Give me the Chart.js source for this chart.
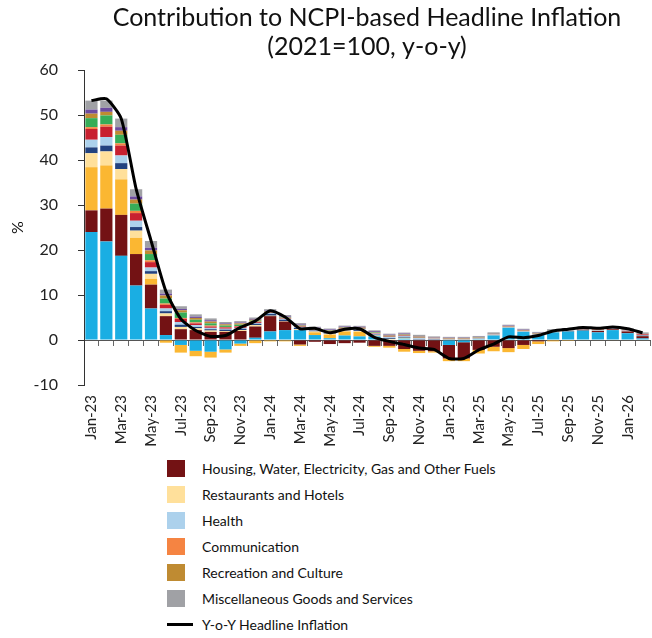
<!DOCTYPE html>
<html>
<head>
<meta charset="utf-8">
<title>Contribution to NCPI-based Headline Inflation</title>
<script src="https://cdn.jsdelivr.net/npm/chart.js@4.4.1/dist/chart.umd.min.js"></script>
<style>
  body { margin: 0; background: #fff; font-family: Lato, sans-serif; }
  #wrap { position: relative; width: 652px; height: 638px; }
  #chart { position: absolute; left: 0; top: 0; }
  #legend { position: absolute; left: 167px; top: 455px; }
  .item { display: flex; align-items: center; height: 26px; font-size: 14px; color: #111; white-space: nowrap; }
  .box { width: 18px; height: 17px; margin-right: 17px; }
  .dash { width: 26px; height: 3px; background: #000; margin-right: 9px; }
</style>
</head>
<body>
<div id="wrap">
  <canvas id="chart" width="652" height="450"></canvas>
  <div id="legend"></div>
</div>
<script>
// Months on the x axis
const months = [
  "Jan-23", "Feb-23", "Mar-23", "Apr-23", "May-23", "Jun-23", "Jul-23", "Aug-23", "Sep-23", "Oct-23", "Nov-23", "Dec-23",
  "Jan-24", "Feb-24", "Mar-24", "Apr-24", "May-24", "Jun-24", "Jul-24", "Aug-24", "Sep-24", "Oct-24", "Nov-24", "Dec-24",
  "Jan-25", "Feb-25", "Mar-25", "Apr-25", "May-25", "Jun-25", "Jul-25", "Aug-25", "Sep-25", "Oct-25", "Nov-25", "Dec-25",
  "Jan-26", "Feb-26"
];

// Y-o-Y headline inflation (%)
const headline = [53.2, 53.6, 49.2, 33.6, 22.1, 10.8, 4.7, 2.1, 0.8, 1.0, 2.8, 4.2,
  6.5, 5.1, 2.5, 2.6, 1.6, 2.4, 2.5, 0.6, -0.3, -1.0, -1.8, -2.1,
  -4.1, -4.1, -2.2, -0.9, 0.7, 0.5, 1.0, 2.0, 2.4, 2.8, 2.6, 2.9,
  2.5, 1.6];

// Contributions by division (percentage points)
const food = [24.0, 21.9, 18.7, 12.1, 7.0, 1.1, -1.1, -2.4, -2.6, -2.1, -0.8, 0.5,
  1.9, 2.2, 2.2, 1.1, 0.4, 1.0, 0.8, 0.8, 0.1, 0.3, 0, 0,
  -1.1, -0.5, 0.2, 1.0, 2.7, 1.8, 1.1, 1.7, 1.9, 2.1, 1.7, 2.2,
  1.5, 0.35];
const housing = [4.8, 7.3, 9.1, 7.0, 5.3, 4.2, 2.4, 2.2, 1.8, 1.8, 2.0, 2.5,
  3.4, 1.9, -1.0, -0.4, -0.9, -0.7, -0.6, -1.3, -1.3, -2.0, -2.4, -2.5,
  -3.0, -3.6, -2.2, -1.5, -1.8, -1.1, -0.3, -0.1, 0.1, 0.2, 0.3, 0.2,
  0.4, 0.5];
const transport = [9.6, 9.6, 7.9, 3.6, 1.3, -0.6, -1.7, -1.2, -1.3, -0.7, -0.5, -0.7,
  -0.3, -0.3, -0.3, 0.6, 0.8, 0.9, 1.0, -0.2, -0.4, -0.6, -0.5, -0.3,
  -0.6, -0.6, -0.8, -1.0, -0.9, -0.9, -0.6, -0.2, -0.2, -0.1, -0.1, -0.1,
  -0.1, -0.1];
const restaurants = [3.1, 3.1, 2.3, 1.6, 1.1, 0.6, 0.5, 0.4, 0.3, 0.2, 0.2, 0.3,
  0.1, 0.1, 0.2, 0.2, 0.2, 0.2, 0.2, 0.2, 0.15, 0.2, 0.1, 0.1,
  0.05, 0.05, 0.05, 0.05, 0.05, 0.05, 0.05, 0.05, 0.05, 0.05, 0.05, 0.05,
  0.05, 0.05];
const furnishing = [1.3, 1.3, 1.3, 0.8, 0.6, 0.5, 0.5, 0.3, 0.3, 0.3, 0.3, 0.3,
  0.4, 0.3, 0.3, 0.2, 0.2, 0.2, 0.2, 0.2, 0.2, 0.2, 0.1, 0.1,
  0.05, 0.05, 0.05, 0.05, 0.05, 0.05, 0.05, 0.05, 0.05, 0.05, 0.05, 0.05,
  0.05, 0.1];
const health = [1.7, 1.9, 1.7, 1.4, 0.8, 0.6, 0.6, 0.4, 0.3, 0.2, 0.2, 0.2,
  0.2, 0.2, 0.2, 0.1, 0.2, 0.15, 0.2, 0.2, 0.2, 0.2, 0.2, 0.1,
  0.1, 0.1, 0.1, 0.1, 0.1, 0.1, 0.1, 0.1, 0.1, 0.1, 0.1, 0.1,
  0.1, 0.1];
const alcohol = [2.4, 2.3, 2.2, 1.7, 1.2, 0.8, 0.7, 0.4, 0.3, 0.3, 0.3, 0.2,
  0.1, 0.1, 0.1, 0.1, 0.1, 0.1, 0.1, 0.1, 0.1, 0.1, 0.1, 0.05,
  0.05, 0.05, 0.05, 0.05, 0.05, 0.05, 0.05, 0.05, 0.05, 0.05, 0.1, 0.1,
  0.1, 0.15];
const communication = [0.4, 0.5, 0.5, 0.5, 0.4, 0.3, 0.2, 0.2, 0.2, 0.1, 0.1, 0.1,
  0.05, 0.05, 0.05, 0.05, 0.05, 0.05, 0.05, 0.05, 0.05, 0.05, 0.05, 0.05,
  0.05, 0.05, 0.05, 0.05, 0.05, 0.05, 0.05, 0.05, 0.05, 0.05, 0.05, 0.05,
  0.05, 0.05];
const clothing = [2.0, 2.0, 1.9, 1.6, 1.4, 1.1, 1.2, 0.6, 0.5, 0.3, 0.3, 0.2,
  0.1, 0.1, 0.1, 0.1, 0.1, 0.1, 0.1, 0.1, 0.1, 0.1, 0.1, 0.05,
  0.05, 0.05, 0.05, 0.05, 0.05, 0.05, 0.05, 0.05, 0.05, 0.05, 0.05, 0.05,
  0.05, 0.05];
const recreation = [1.0, 0.8, 0.9, 0.9, 0.8, 0.7, 0.5, 0.4, 0.4, 0.3, 0.3, 0.2,
  0.1, 0.1, 0.1, 0.1, 0.1, 0.1, 0.1, 0.1, 0.1, 0.1, 0.1, 0.05,
  0.05, 0.05, 0.05, 0.05, 0.05, 0.05, 0.05, 0.05, 0.05, 0.05, 0.05, 0.05,
  0.05, 0.05];
const education = [0.9, 0.9, 0.8, 0.7, 0.6, 0.4, 0.3, 0.3, 0.3, 0.2, 0.2, 0.2,
  0.2, 0.2, 0.2, 0.2, 0.2, 0.2, 0.2, 0.2, 0.2, 0.2, 0.1, 0.1,
  0.1, 0.1, 0.1, 0.1, 0.1, 0.1, 0.1, 0.1, 0.1, 0.1, 0.1, 0.1,
  0.1, 0.1];
const misc = [2.0, 1.6, 1.9, 1.6, 1.5, 0.9, 0.6, 0.5, 0.4, 0.3, 0.3, 0.3,
  0.3, 0.3, 0.3, 0.2, 0.2, 0.2, 0.2, 0.2, 0.2, 0.2, 0.3, 0.2,
  0.2, 0.2, 0.2, 0.2, 0.2, 0.2, 0.2, 0.2, 0.15, 0.15, 0.15, 0.15,
  0.15, 0.2];

// Stack order, bottom to top; "legend" marks the divisions listed under the chart
const divisions = [
  {label: "Food and Non-Alcoholic Beverages", data: food, color: "#1aaee3"},
  {label: "Housing, Water, Electricity, Gas and Other Fuels", data: housing, color: "#731214", legend: true},
  {label: "Transport", data: transport, color: "#fbb732"},
  {label: "Restaurants and Hotels", data: restaurants, color: "#ffe09b", legend: true},
  {label: "Furnishings, Household Equipment", data: furnishing, color: "#22427f"},
  {label: "Health", data: health, color: "#acd1ec", legend: true},
  {label: "Alcoholic Beverages and Tobacco", data: alcohol, color: "#c8202f"},
  {label: "Communication", data: communication, color: "#f58442", legend: true},
  {label: "Clothing and Footwear", data: clothing, color: "#36ad58"},
  {label: "Recreation and Culture", data: recreation, color: "#bf8b32", legend: true},
  {label: "Education", data: education, color: "#6d4c9f"},
  {label: "Miscellaneous Goods and Services", data: misc, color: "#a0a1a5", legend: true}
];

const FONT = "Lato, 'Open Sans', sans-serif";

const datasets = divisions.map(d => ({
  label: d.label,
  data: d.data,
  backgroundColor: d.color,
  borderWidth: 0,
  stack: "div",
  order: 1,
  categoryPercentage: 1,
  barPercentage: 0.82
}));

datasets.push({
  type: "line",
  label: "Y-o-Y Headline Inflation",
  data: headline,
  borderColor: "#000",
  borderWidth: 3,
  pointRadius: 0,
  tension: 0.2,
  stack: "line",
  order: 0
});

new Chart(document.getElementById("chart"), {
  type: "bar",
  data: {labels: months, datasets},
  options: {
    responsive: false,
    animation: false,
    devicePixelRatio: 1,
    layout: {padding: {left: 0, right: 2, top: 0, bottom: 0}},
    plugins: {
      legend: {display: false},
      tooltip: {enabled: false},
      title: {
        display: true,
        fullSize: false,
        text: ["Contribution to NCPI-based Headline Inflation", "(2021=100, y-o-y)"],
        color: "#111",
        font: {family: FONT, size: 25, weight: "normal", lineHeight: 1.16},
        padding: {top: 3, bottom: 9}
      }
    },
    scales: {
      x: {
        stacked: true,
        offset: true,
        grid: {display: false, drawTicks: false},
        border: {display: false},
        ticks: {
          autoSkip: false,
          minRotation: 90,
          maxRotation: 90,
          padding: 10,
          color: "#222",
          font: {family: FONT, size: 15},
          callback: (v, i) => (i % 2 === 0 ? months[i] : "")
        },
        afterFit: s => {
          s.height = 65;
          s.paddingLeft = 0;
          s.paddingRight = 0;
        }
      },
      // zero line with small marks between the months
      x2: {
        axis: "x",
        type: "category",
        position: {y: 0},
        offset: true,
        grid: {display: true, drawOnChartArea: false, drawTicks: true, tickLength: 5, color: "#666", offset: true},
        border: {display: true, color: "#555", width: 1},
        ticks: {display: false}
      },
      y: {
        stacked: true,
        min: -10,
        max: 60,
        grid: {drawOnChartArea: false, drawTicks: true, tickLength: 6, color: "#333"},
        border: {display: true, color: "#333", width: 1},
        ticks: {stepSize: 10, padding: 20, color: "#222", font: {family: FONT, size: 16}},
        title: {display: true, text: "%", color: "#111", font: {family: FONT, size: 16}, padding: {top: 8, bottom: 0}},
        afterFit: s => { s.width = 84; }
      }
    }
  }
});

// Legend under the chart: the listed divisions, then the headline line
const legend = document.getElementById("legend");
divisions.filter(d => d.legend).forEach(d => {
  const row = document.createElement("div");
  row.className = "item";
  row.innerHTML = `<span class="box" style="background:${d.color}"></span><span>${d.label}</span>`;
  legend.appendChild(row);
});
const lineRow = document.createElement("div");
lineRow.className = "item";
lineRow.innerHTML = `<span class="dash"></span><span>Y-o-Y Headline Inflation</span>`;
legend.appendChild(lineRow);
</script>
</body>
</html>
